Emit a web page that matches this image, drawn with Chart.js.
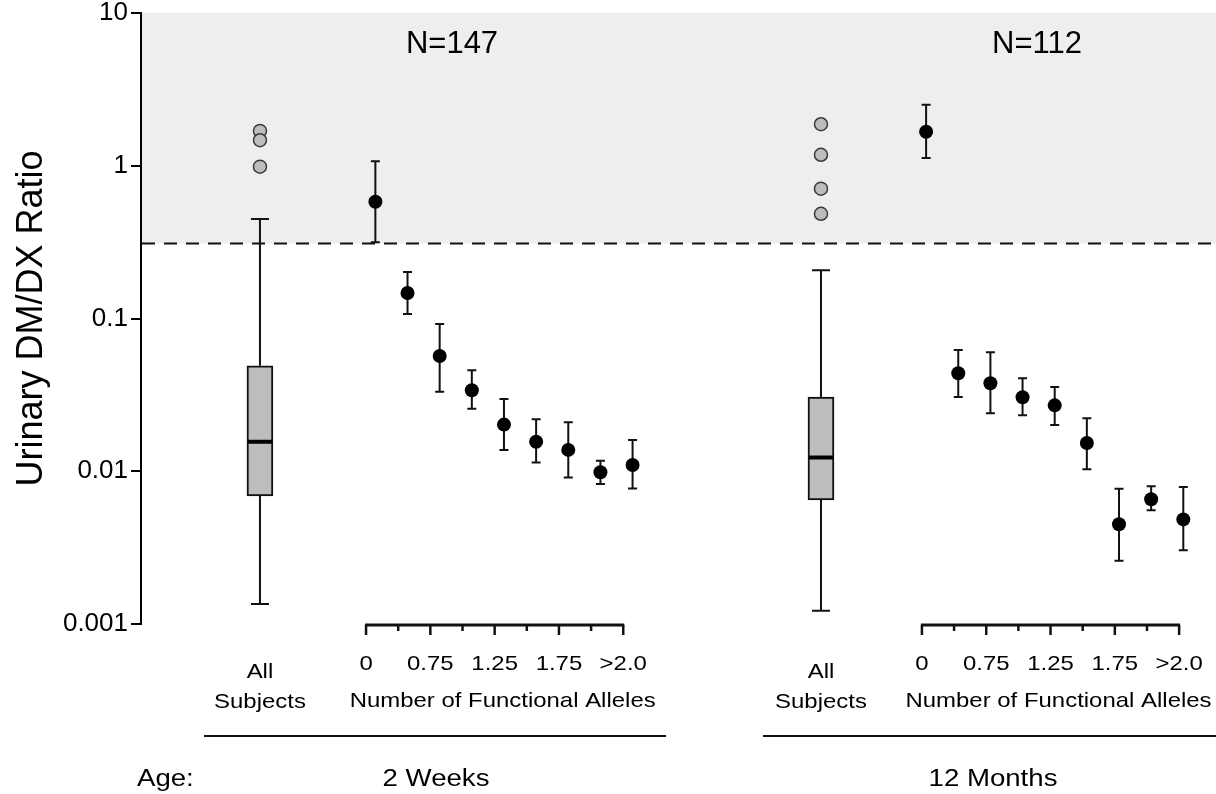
<!DOCTYPE html>
<html><head><meta charset="utf-8">
<script src="https://cdn.jsdelivr.net/npm/chart.js@4.4.1/dist/chart.umd.min.js"></script>
<style>html,body{margin:0;padding:0;background:#fff;} canvas{display:block;}</style>
</head><body>
<canvas id="c" width="1216" height="794"></canvas>
<script>
// ---------------- data ----------------
const GROUPS = ['2 Weeks', '12 Months'];
const GROUP_N = ['N=147', 'N=112'];
const ALLELE_CATEGORIES = ['0', '0.5', '0.75', '1.0', '1.25', '1.5', '1.75', '2.0', '>2.0'];
const ALLELE_TICK_LABELS = ['0', '', '0.75', '', '1.25', '', '1.75', '', '>2.0'];
const Y_TICKS = [0.001, 0.01, 0.1, 1, 10];
const Y_TICK_LABELS = ['0.001', '0.01', '0.1', '1', '10'];
const THRESHOLD = 0.31;

// box plots: [whiskerLow, q1, median, q3, whiskerHigh]
const BOX_2WK = [0.00135, 0.0069, 0.0156, 0.049, 0.448];
const BOX_12MO = [0.00122, 0.0065, 0.0123, 0.0306, 0.207];
const OUTLIERS_2WK = [1.69, 1.47, 0.986];
const OUTLIERS_12MO = [1.87, 1.18, 0.708, 0.485];

const MEAN_2WK = [0.581, 0.147, 0.0568, 0.0339, 0.0202, 0.0156, 0.0138, 0.00984, 0.0110];
const LOW_2WK  = [0.3155, 0.107, 0.0332, 0.0257, 0.0138, 0.0114, 0.0091, 0.00825, 0.0077];
const HIGH_2WK = [1.069, 0.2016, 0.0920, 0.0458, 0.0297, 0.0219, 0.0209, 0.0117, 0.0160];

const MEAN_12MO = [1.671, 0.0438, 0.0377, 0.0305, 0.0270, 0.0153, 0.0045, 0.00655, 0.00484];
const LOW_12MO  = [1.124, 0.0306, 0.0240, 0.0233, 0.0201, 0.0103, 0.00259, 0.00555, 0.00304];
const HIGH_12MO = [2.51, 0.0622, 0.0601, 0.0406, 0.0356, 0.0222, 0.00769, 0.00797, 0.00789];

// ---------------- layout (slot units on the x scale) ----------------
const X_MAX = 33.437;
const LAYOUT = [
  {box: 3.70, tick0: 7.00, pt0: 7.29, nX: 452, titleX: 436, lineFrom: 204, lineTo: 666},
  {box: 21.15, tick0: 24.29, pt0: 24.42, nX: 1037, titleX: 993, lineFrom: 763, lineTo: 1216}
];
const BOXES = [BOX_2WK, BOX_12MO];
const OUTLIERS = [OUTLIERS_2WK, OUTLIERS_12MO];
const MEANS = [MEAN_2WK, MEAN_12MO];
const LOWS = [LOW_2WK, LOW_12MO];
const HIGHS = [HIGH_2WK, HIGH_12MO];
const FONT = '"Liberation Sans", Arial, Helvetica, sans-serif';

const boxData = LAYOUT.map((L, g) => ({x: L.box, y: [BOXES[g][1], BOXES[g][3]]}));
const medianData = LAYOUT.map((L, g) => ({x: L.box, y: BOXES[g][2]}));
const outlierData = [];
LAYOUT.forEach((L, g) => OUTLIERS[g].forEach(v => outlierData.push({x: L.box, y: v})));
const meanData = [];
LAYOUT.forEach((L, g) => MEANS[g].forEach((v, i) => meanData.push({x: L.pt0 + i, y: v})));

function drawText(ctx, s, x, y, size, k, align) {
  ctx.save();
  ctx.font = size + 'px ' + FONT;
  ctx.fillStyle = '#000';
  ctx.textBaseline = 'alphabetic';
  ctx.textAlign = align || 'center';
  ctx.translate(x, y);
  ctx.scale(k, 1);
  ctx.fillText(s, 0, 0);
  ctx.restore();
}

const decor = {
  id: 'decor',
  beforeDatasetsDraw(chart) {
    const {ctx, chartArea: a, scales: {x, y}} = chart;
    const yThr = y.getPixelForValue(THRESHOLD);
    ctx.save();
    ctx.fillStyle = '#eeeeee';
    ctx.fillRect(a.left + 1, a.top, a.right - a.left, yThr - a.top);
    ctx.strokeStyle = '#111';
    ctx.lineWidth = 2;
    ctx.setLineDash([13, 9]);
    ctx.beginPath(); ctx.moveTo(a.left + 1, yThr); ctx.lineTo(a.right, yThr); ctx.stroke();
    ctx.setLineDash([]);
    LAYOUT.forEach((L, g) => {
      const b = BOXES[g];
      const px = x.getPixelForValue(L.box);
      const seg = (v1, v2) => {
        const y1 = y.getPixelForValue(v1), y2 = y.getPixelForValue(v2);
        ctx.beginPath(); ctx.moveTo(px, y1); ctx.lineTo(px, y2);
        ctx.moveTo(px - 9, y2); ctx.lineTo(px + 9, y2); ctx.stroke();
      };
      seg(b[3], b[4]);
      seg(b[1], b[0]);
      MEANS[g].forEach((m, i) => {
        const ex = x.getPixelForValue(L.pt0 + i);
        const yt = y.getPixelForValue(HIGHS[g][i]);
        const yb = y.getPixelForValue(LOWS[g][i]);
        ctx.beginPath();
        ctx.moveTo(ex, yt); ctx.lineTo(ex, yb);
        ctx.moveTo(ex - 4.5, yt); ctx.lineTo(ex + 4.5, yt);
        ctx.moveTo(ex - 4.5, yb); ctx.lineTo(ex + 4.5, yb);
        ctx.stroke();
      });
    });
    ctx.restore();
  },
  afterDraw(chart) {
    const {ctx, chartArea: a, scales: {x}} = chart;
    ctx.save();
    ctx.strokeStyle = '#111';
    LAYOUT.forEach((L, g) => {
      const axY = a.bottom + 1;
      const x0 = x.getPixelForValue(L.tick0);
      const x8 = x.getPixelForValue(L.tick0 + ALLELE_CATEGORIES.length - 1);
      ctx.lineWidth = 3;
      ctx.beginPath(); ctx.moveTo(x0 - 1, axY); ctx.lineTo(x8 + 1, axY); ctx.stroke();
      ctx.lineWidth = 2.5;
      ALLELE_CATEGORIES.forEach((c, i) => {
        const tx = x.getPixelForValue(L.tick0 + i);
        const major = ALLELE_TICK_LABELS[i] !== '';
        ctx.beginPath(); ctx.moveTo(tx, axY); ctx.lineTo(tx, axY + (major ? 10 : 6)); ctx.stroke();
        if (major) drawText(ctx, ALLELE_TICK_LABELS[i], tx, 670, 21, 1.14);
      });
      const bx = x.getPixelForValue(L.box);
      drawText(ctx, 'All', bx, 678, 21, 1.14);
      drawText(ctx, 'Subjects', bx, 708, 21, 1.14);
      drawText(ctx, 'Number of Functional Alleles', (x0 + x8) / 2 + 8, 707, 21, 1.14);
      ctx.lineWidth = 2;
      ctx.beginPath(); ctx.moveTo(L.lineFrom, 736); ctx.lineTo(L.lineTo, 736); ctx.stroke();
      drawText(ctx, GROUPS[g], L.titleX, 786, 23, 1.2);
      drawText(ctx, GROUP_N[g], L.nX, 53, 31, 1.0);
    });
    drawText(ctx, 'Age:', 137, 786, 23, 1.2, 'left');
    ctx.restore();
  }
};

new Chart(document.getElementById('c'), {
  type: 'scatter',
  data: {
    datasets: [
      {type: 'bar', data: boxData, order: 3, barThickness: 26, backgroundColor: '#bdbdbd',
       borderColor: '#111', borderWidth: 2, borderSkipped: false},
      {type: 'scatter', data: medianData, order: 2, pointStyle: 'line', pointRadius: 12,
       pointBorderWidth: 4, pointBorderColor: '#000', pointHoverRadius: 12},
      {type: 'scatter', data: outlierData, order: 1, pointRadius: 6.5, pointBackgroundColor: '#bdbdbd',
       pointBorderColor: '#3a3a3a', pointBorderWidth: 1.5, pointHoverRadius: 6.5},
      {type: 'scatter', data: meanData, order: 0, pointRadius: 7, pointBackgroundColor: '#000',
       pointBorderColor: '#000', pointBorderWidth: 0, pointHoverRadius: 7}
    ]
  },
  options: {
    responsive: false,
    animation: false,
    events: [],
    layout: {autoPadding: false, padding: {top: 13, bottom: 170, left: 0, right: 0}},
    plugins: {legend: {display: false}, tooltip: {enabled: false}},
    scales: {
      x: {type: 'linear', min: 0, max: X_MAX, display: false, offset: false, grid: {offset: false}},
      y: {
        type: 'logarithmic', min: 0.001, max: 10, position: 'left',
        afterBuildTicks: s => { s.ticks = Y_TICKS.map(v => ({value: v})); },
        afterFit: s => { s.width = 141; s.paddingTop = 0; s.paddingBottom = 0; },
        ticks: {
          callback: v => { const i = Y_TICKS.findIndex(t => Math.abs(t - v) / t < 1e-6); return i >= 0 ? Y_TICK_LABELS[i] : ''; },
          font: {size: 26, family: FONT}, color: '#000', padding: 3, autoSkip: false, maxRotation: 0
        },
        grid: {drawOnChartArea: false, drawTicks: true, tickLength: 10, color: '#000', lineWidth: 2},
        border: {display: true, color: '#000', width: 2},
        title: {display: true, text: 'Urinary DM/DX Ratio', font: {size: 36, family: FONT}, color: '#000',
                padding: {top: 10, bottom: 0}}
      }
    }
  },
  plugins: [decor]
});
</script>
</body></html>
